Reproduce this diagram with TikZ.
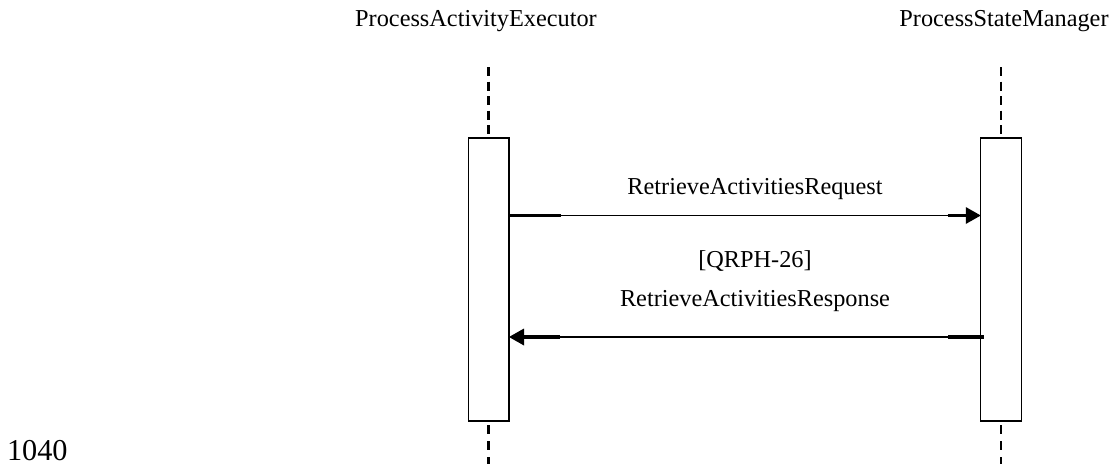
\documentclass[tikz,border=0pt]{standalone}
\usepackage{fontspec}
\setmainfont{Liberation Serif}
\usetikzlibrary{arrows.meta}
\begin{document}
\begin{tikzpicture}[x=1pt,y=-1pt,
  actbox/.style={draw=black,line width=1.3pt,fill=white,minimum width=40.5pt,minimum height=283pt,inner sep=0pt,outer sep=0pt},
  lifeline/.style={draw=black,line width=2.7pt,dash pattern=on 9pt off 5.5pt},
  lifelinelow/.style={draw=black,line width=2.7pt,dash pattern=on 9pt off 7pt,dash phase=12pt},
  msgline/.style={draw=black,line width=1.3pt},
  msgstub/.style={draw=black,line width=3.3pt},
  msghead/.style={draw=none,fill=black},
  lbl/.style={inner sep=0pt,outer sep=0pt,anchor=base,font=\fontsize{24.3}{29}\selectfont},
  pagenum/.style={inner sep=0pt,outer sep=0pt,anchor=base west,font=\fontsize{30.3}{36}\selectfont}
]
% canvas
\fill[white] (0,0) rectangle (1113,464);
\useasboundingbox (0,0) rectangle (1113,464);

% participants
\node[lbl] (paeName) at (476,26) {ProcessActivityExecutor};
\node[lbl] (psmName) at (1004,26) {ProcessStateManager};

% activation boxes
\node[actbox] (pae) at (488.75,279.5) {};
\node[actbox] (psm) at (1001,279.5) {};

% lifelines above and below the activations
\coordinate (paeTop) at (pae.north |- 0,67);
\coordinate (psmTop) at (psm.north |- 0,67);
\coordinate (paeBot) at (pae.south |- 0,464);
\coordinate (psmBot) at (psm.south |- 0,464);
\draw[lifeline] (paeTop) -- (pae.north);
\draw[lifeline] (psmTop) -- (psm.north);
\draw[lifelinelow] (pae.south) -- (paeBot);
\draw[lifelinelow] (psm.south) -- (psmBot);

% request message
\coordinate (reqFrom) at (pae.east |- 0,215.5);
\coordinate (reqTo) at (psm.west |- 0,215.5);
\draw[msgline] (reqFrom) -- ([xshift=-15pt]reqTo);
\draw[msgstub] ([xshift=-1pt]reqFrom) -- ([xshift=52pt]reqFrom);
\draw[msgstub] ([xshift=-33pt]reqTo) -- ([xshift=-13pt]reqTo);
\fill[msghead] (reqTo) -- ++(-15,-8.5) -- ++(0,17) -- cycle;

% response message
\coordinate (resFrom) at (psm.west |- 0,337);
\coordinate (resTo) at (pae.east |- 0,337);
\draw[msgline] (resFrom) -- ([xshift=15pt]resTo);
\draw[msgstub] ([xshift=3pt]resFrom) -- ([xshift=-33pt]resFrom);
\draw[msgstub] ([xshift=13pt]resTo) -- ([xshift=51pt]resTo);
\fill[msghead] (resTo) -- ++(15,-8.5) -- ++(0,17) -- cycle;

% message labels
\node[lbl] (reqLbl) at (755,194) {RetrieveActivitiesRequest};
\node[lbl] (refLbl) at (755,267) {[QRPH-26]};
\node[lbl] (resLbl) at (755,306.5) {RetrieveActivitiesResponse};

% page number
\node[pagenum] (pageNo) at (7,460) {1040};
\end{tikzpicture}
\end{document}
